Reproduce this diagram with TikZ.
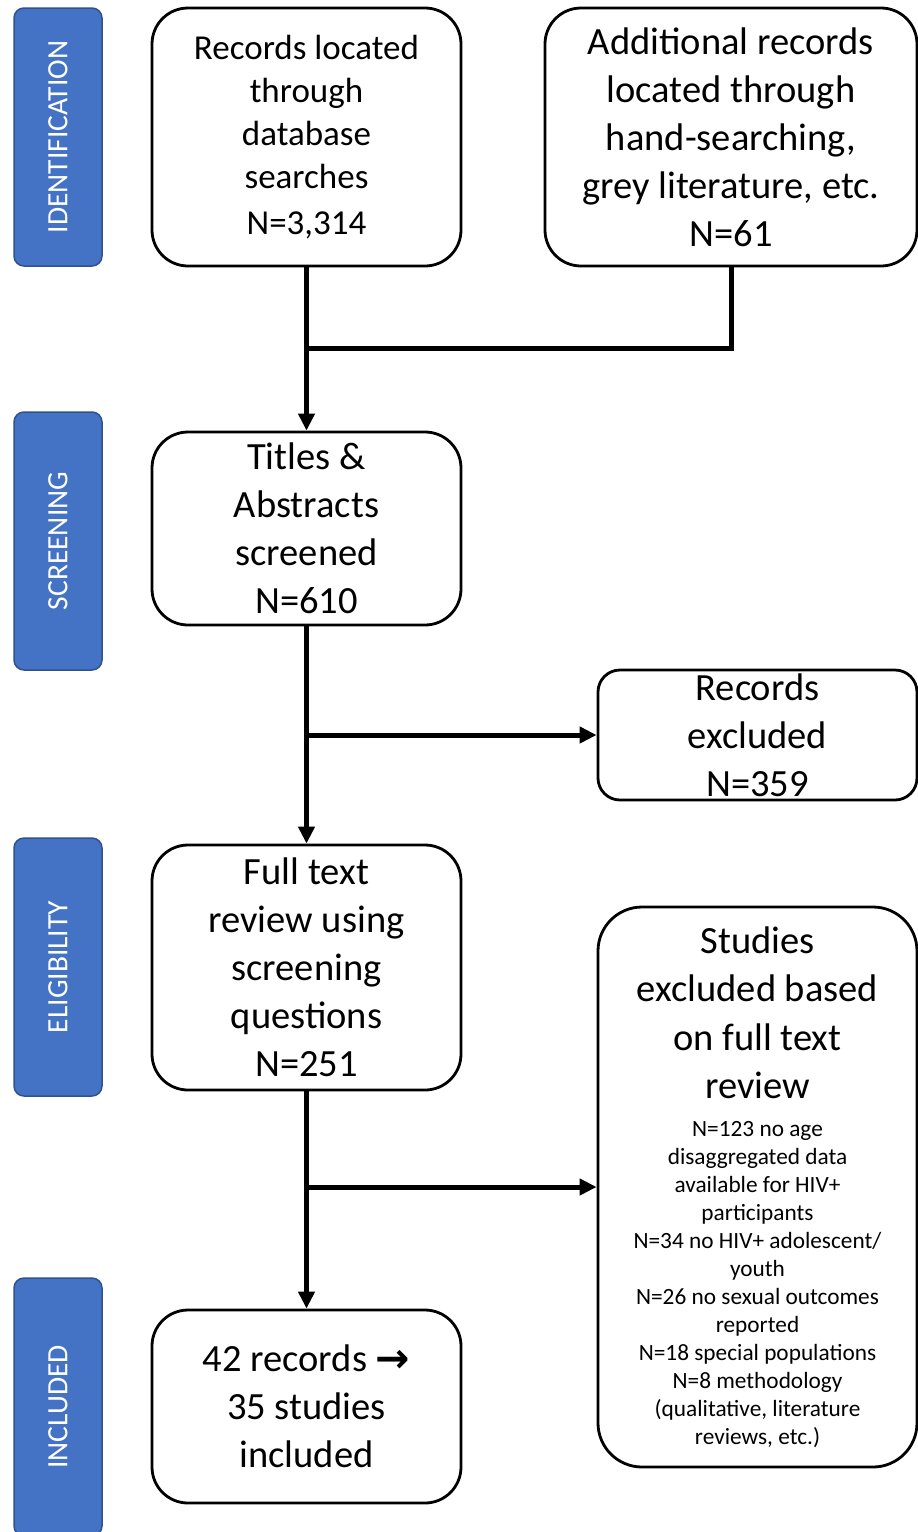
\documentclass[tikz,border=0pt]{standalone}
\usepackage{fontspec}
\setmainfont{Carlito}
\newfontfamily\arrowfont{DejaVu Sans}
\usetikzlibrary{arrows.meta}
\definecolor{phaseblue}{HTML}{4472C4}
\definecolor{phaseedge}{HTML}{2F528F}
\tikzset{
  phase/.style={draw=phaseedge, fill=phaseblue, line width=1.5pt, rounded corners=10pt,
    minimum width=258pt, minimum height=88pt, inner sep=0pt, text=white, rotate=90,
    font=\fontsize{29.5}{34}\selectfont},
  flowbox/.style={draw=black, line width=2.8pt, rounded corners=36pt, inner sep=0pt,
    fill=white},
  conn/.style={line width=5pt, draw=black},
  arr/.style={conn, -{Triangle[length=17pt,width=16pt]}},
}
\begin{document}
\begin{tikzpicture}[x=1pt,y=-1pt]
\useasboundingbox (0,0) rectangle (918,1532);
% phase labels
\node[phase] (p1) at (58,137) {IDENTIFICATION};
\node[phase] (p2) at (58,541) {SCREENING};
\node[phase] (p3) at (58,967) {ELIGIBILITY};
\node[phase] (p4) at (58,1407) {INCLUDED};
% boxes
\node[flowbox, minimum width=309pt, minimum height=258pt] (A) at (306.5,137)
  {\parbox{290pt}{\centering\fontsize{35}{43}\selectfont
   Records located\\through\\database\\searches\\[3pt]N=3,314\par}};
\node[flowbox, minimum width=372pt, minimum height=258pt] (B) at (731,137)
  {\parbox{360pt}{\centering\fontsize{38.5}{48}\selectfont
   Additional records\\located through\\hand-searching,\\grey literature, etc.\\N=61\par}};
\node[flowbox, minimum width=309pt, minimum height=193pt] (C) at (306.5,528.5)
  {\parbox{290pt}{\centering\fontsize{38.5}{48}\selectfont
   Titles \&\\Abstracts\\screened\\N=610\par}};
\node[flowbox, rounded corners=22pt, minimum width=319pt, minimum height=130pt] (E) at (757.5,735)
  {\parbox{300pt}{\centering\fontsize{38.5}{48}\selectfont
   Records\\excluded\\N=359\par}};
\node[flowbox, minimum width=309pt, minimum height=245pt] (D) at (306.5,967.5)
  {\parbox{290pt}{\centering\fontsize{38.5}{48}\selectfont
   Full text\\review using\\screening\\questions\\N=251\par}};
\node[flowbox, rounded corners=44pt, minimum width=319pt, minimum height=560pt] (G) at (757.5,1187)
  {\parbox{305pt}{\centering
   \fontsize{38.5}{48.5}\selectfont Studies\\excluded based\\on full text\\review\par\vspace{10pt}
   \fontsize{23.3}{28}\selectfont N=123 no age\\disaggregated data\\available for HIV+\\participants\\
   N=34 no HIV+ adolescent/\\youth\\N=26 no sexual outcomes\\reported\\N=18 special populations\\
   N=8 methodology\\(qualitative, literature\\reviews, etc.)\par}};
\node[flowbox, minimum width=309pt, minimum height=193pt] (F) at (306.5,1406.5)
  {\parbox{290pt}{\centering\fontsize{38.5}{48}\selectfont
   42 records {\arrowfont\bfseries\fontsize{41}{48}\selectfont\raisebox{-1pt}{→}}\\35 studies\\included\par}};
% junctions
\coordinate (j1) at (306.5,348);
\coordinate (j2) at (306.5,735);
\coordinate (j3) at (306.5,1187);
% connectors
\draw[arr] (A.south) -- (C.north);
\draw[conn] (B.south) |- (j1);
\draw[arr] (C.south) -- (D.north);
\draw[arr] (j2) -- (E.west);
\draw[arr] (D.south) -- (F.north);
\draw[arr] (j3) -- (G.west);
\end{tikzpicture}
\end{document}
